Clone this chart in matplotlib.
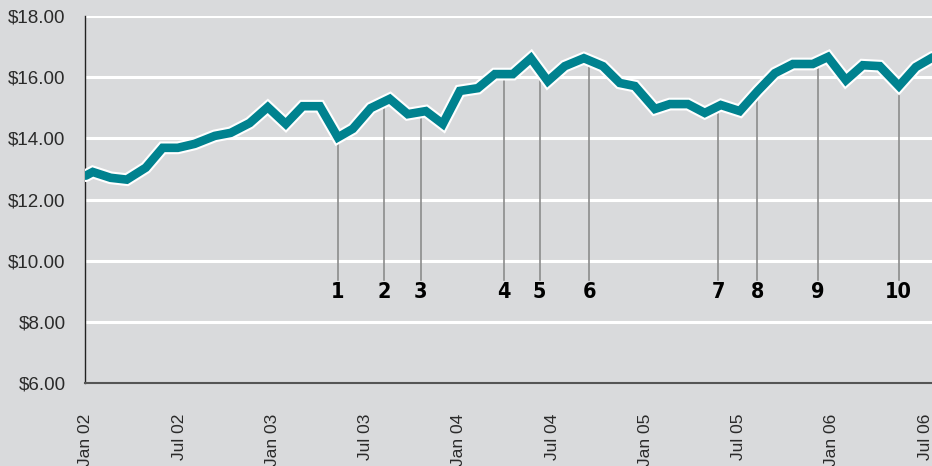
import matplotlib.pyplot as plt
import matplotlib.patheffects as pe
from matplotlib import font_manager
import numpy as np

# price series, x in months counted from Jan 02
months = [0.0, 0.45, 1.6, 2.64, 3.86, 4.95, 5.92, 7.01, 8.3, 9.33,
          10.55, 11.71, 12.87, 13.96, 15.06, 16.22, 17.18, 18.34, 19.56, 20.72,
          21.88, 22.97, 24.07, 25.23, 26.32, 27.48, 28.64, 29.73, 30.82, 32.05,
          33.27, 34.36, 35.33, 36.62, 37.58, 38.74, 39.83, 40.86, 42.08, 43.24,
          44.34, 45.5, 46.78, 47.75, 48.91, 50.0, 51.09, 52.32, 53.41, 54.5]
price = [12.78, 12.90, 12.71, 12.65, 13.04, 13.69, 13.69, 13.82, 14.08, 14.18,
         14.50, 15.02, 14.47, 15.05, 15.05, 14.03, 14.31, 14.99, 15.29, 14.79,
         14.89, 14.47, 15.55, 15.64, 16.10, 16.10, 16.62, 15.87, 16.36, 16.62,
         16.36, 15.81, 15.71, 14.96, 15.12, 15.12, 14.83, 15.09, 14.89, 15.55,
         16.13, 16.43, 16.43, 16.66, 15.90, 16.39, 16.36, 15.71, 16.33, 16.65]

# numbered events
event_months = [16.22, 19.18, 21.56, 26.9, 29.2, 32.4, 40.7, 43.2, 47.1, 52.3]
event_labels = ["1", "2", "3", "4", "5", "6", "7", "8", "9", "10"]

tick_months = [0, 6, 12, 18, 24, 30, 36, 42, 48, 54]
tick_labels = ["Jan 02", "Jul 02", "Jan 03", "Jul 03", "Jan 04",
               "Jul 04", "Jan 05", "Jul 05", "Jan 06", "Jul 06"]
y_ticks = [6, 8, 10, 12, 14, 16, 18]

bg = "#d9dadc"
teal = "#00828f"

plt.rcParams["font.family"] = ["Liberation Sans", "DejaVu Sans"]

# narrow bold face for the event numbers, if there is one
names = {f.name for f in font_manager.fontManager.ttflist}
if "Liberation Sans Narrow" in names:
    num_font = dict(family="Liberation Sans Narrow", fontweight="bold")
else:
    num_font = dict(family="DejaVu Sans", fontstretch="condensed", fontweight="bold")

fig = plt.figure(figsize=(9.32, 4.66), dpi=100, facecolor=bg)
ax = fig.add_axes([0.0912, 0.178, 0.9088, 0.7877])
ax.set_facecolor(bg)

# white grid lines
for v in y_ticks[1:]:
    ax.axhline(v, color="white", lw=2.2, zorder=1)

# event stems and numbers
line_bottom = 9.37
for m, lab in zip(event_months, event_labels):
    top = np.interp(m, months, price)
    ax.plot([m, m], [line_bottom, top], color="#8c8c8c", lw=1.2, zorder=2)
    ax.text(m, 8.98, lab, ha="center", va="center", fontsize=15.5,
            color="black", zorder=3, **num_font)

ax.plot(months, price, color=teal, lw=6.2, solid_capstyle="round",
        solid_joinstyle="miter", zorder=4,
        path_effects=[pe.Stroke(linewidth=9.2, foreground="white"), pe.Normal()])

ax.set_xlim(-0.05, 54.45)
ax.set_ylim(6, 18)
ax.set_yticks(y_ticks)
ax.set_yticklabels(["$%.2f" % v for v in y_ticks])
ax.set_xticks(tick_months)
ax.set_xticklabels(tick_labels, rotation=90)
ax.tick_params(axis="y", length=0, pad=14, labelsize=13.5, labelcolor="#2a2a2a")
ax.tick_params(axis="x", length=0, pad=22, labelsize=12.5, labelcolor="#2a2a2a")

for s in ["top", "right"]:
    ax.spines[s].set_visible(False)
ax.spines["left"].set_color("#222222")
ax.spines["left"].set_linewidth(1.0)
ax.spines["bottom"].set_color("#555555")
ax.spines["bottom"].set_linewidth(1.5)

fig.savefig("out.png", dpi=100, facecolor=bg)
